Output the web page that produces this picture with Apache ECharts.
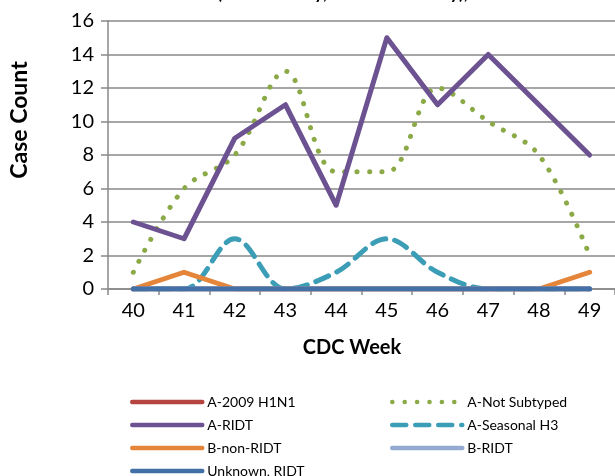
<!DOCTYPE html>
<html>
<head>
<meta charset="utf-8">
<script src="https://cdn.jsdelivr.net/npm/echarts@6/dist/echarts.min.js"></script>
<style>html,body{margin:0;padding:0;background:#fff;}#c{width:615px;height:476px;}</style>
</head>
<body>
<div id="c"></div>
<script>
var weeks = ['40','41','42','43','44','45','46','47','48','49'];
var yTicks = [0,2,4,6,8,10,12,14,16];
var h1n1 = [0,0,0,0,0,0,0,0,0,0];
var notSubtyped = [1,6,8,13,7,7,12,10,8,2];
var aRidt = [4,3,9,11,5,15,11,14,11,8];
var seasonalH3 = [0,0,3,0,1,3,1,0,0,0];
var bNonRidt = [0,1,0,0,0,0,0,0,0,1];
var bRidt = [0,0,0,0,0,0,0,0,0,0];
var unknownRidt = [0,0,0,0,0,0,0,0,0,0];

var FONT = 'Lato';
function ln(name, data, color, extra) {
  var s = {
    name: name, type: 'line', data: data, symbol: 'none',
    lineStyle: { color: color, width: 5, cap: 'round', join: 'round' },
    itemStyle: { color: color },
    emphasis: { disabled: true }, animation: false
  };
  if (extra) { for (var k in extra) s.lineStyle[k] = extra[k]; }
  return s;
}
var series = [
  ln('A-2009 H1N1', h1n1, '#B5433F'),
  Object.assign(ln('A-Not Subtyped', notSubtyped, '#8BAA47', { type: [0.1, 12.3] }), { smooth: 0.35 }),
  ln('A-RIDT', aRidt, '#6C5291'),
  Object.assign(ln('A-Seasonal H3', seasonalH3, '#3C9DB6', { type: [14, 9] }), { smooth: 0.35 }),
  ln('B-non-RIDT', bNonRidt, '#E5853A'),
  ln('B-RIDT', bRidt, '#94AAD0'),
  ln('Unknown, RIDT', unknownRidt, '#4470A8')
];

var chart = echarts.init(document.getElementById('c'), null, { renderer: 'canvas' });
var legendCommon = {
  orient: 'vertical', itemWidth: 70, itemHeight: 14, itemGap: 9, height: 120, padding: 0,
  textStyle: { fontFamily: FONT, fontSize: 14, color: '#000' },
  itemStyle: { opacity: 0 },
  lineStyle: { width: 4.5 },
  selectedMode: false
};
chart.setOption({
  animation: false,
  backgroundColor: '#fff',
  title: [
    { text: '(Leon County, Wakulla County),', left: 212, top: -21,
      textStyle: { fontFamily: FONT, fontSize: 18, fontWeight: 'bold', color: '#000' } },
    { text: 'CDC Week', left: 347, top: 333, textAlign: 'center',
      textStyle: { fontFamily: FONT, fontSize: 20, fontWeight: 'bold', color: '#000' } }
  ],
  graphic: [
    { type: 'text', x: 20, y: 120, rotation: Math.PI / 2,
      style: { text: 'Case Count', fontFamily: FONT, fontSize: 23, fontWeight: 'bold', fill: '#000',
               textAlign: 'center', textVerticalAlign: 'middle' } }
  ],
  grid: { left: 108, right: -7, top: 21, bottom: 187, containLabel: false },
  xAxis: {
    type: 'category', data: weeks, boundaryGap: true,
    axisLine: { lineStyle: { color: '#888', width: 1.5 } },
    axisTick: { show: true, length: 6, lineStyle: { color: '#888', width: 1.5 }, alignWithLabel: false },
    axisLabel: { fontFamily: FONT, fontSize: 20, color: '#000', margin: 12 }
  },
  yAxis: {
    type: 'value', min: 0, max: 16, interval: 2,
    axisLine: { show: true, lineStyle: { color: '#888', width: 1.5 } },
    axisTick: { show: true, length: 7, lineStyle: { color: '#888', width: 1.5 } },
    splitLine: { lineStyle: { color: '#888', width: 1.5 } },
    axisLabel: { fontFamily: FONT, fontSize: 20, color: '#000', margin: 14,
      formatter: function (v) { return yTicks.indexOf(v) >= 0 ? String(v) : ''; } }
  },
  legend: [
    Object.assign({ left: 130, top: 395, data: ['A-2009 H1N1', 'A-RIDT', 'B-non-RIDT', 'Unknown, RIDT'] }, legendCommon),
    Object.assign({ left: 390, top: 395, data: ['A-Not Subtyped', 'A-Seasonal H3', 'B-RIDT'] }, legendCommon)
  ],
  series: series
});
</script>
</body>
</html>
